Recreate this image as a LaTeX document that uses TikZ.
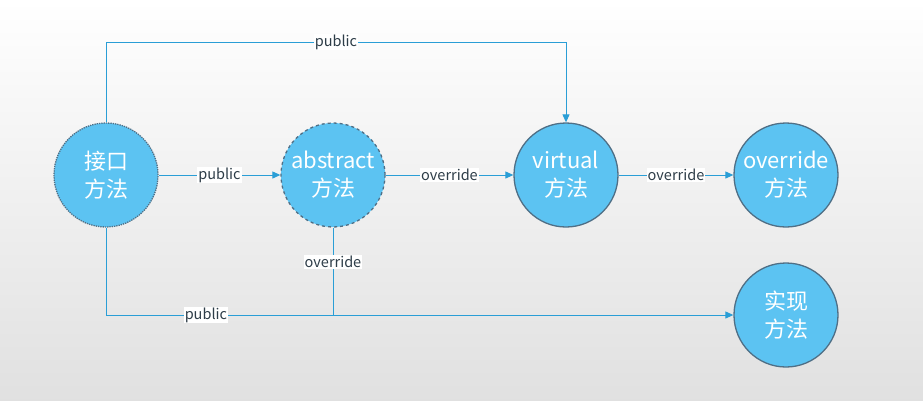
\documentclass[tikz,border=0pt]{standalone}
\usepackage{fontspec}
\setmainfont{Noto Sans CJK SC}
\usetikzlibrary{arrows.meta}
\definecolor{cfill}{HTML}{5CC3F2}
\definecolor{cline}{HTML}{2A9ED6}
\definecolor{cbord}{HTML}{4F6F86}
\definecolor{ctext}{HTML}{2E3D48}
\tikzset{
 meth/.style={circle,fill=cfill,draw=cbord,line width=1.3pt,minimum size=104pt,inner sep=0pt,text=white,font=\fontsize{22}{28}\selectfont,align=center},
 conn/.style={draw=cline,line width=1pt},
 arr/.style={conn,-{Triangle[length=8pt,width=7pt]}},
 lab/.style={fill=white,text=ctext,font=\fontsize{14.5}{16}\selectfont,inner sep=1pt}
}
\begin{document}
\begin{tikzpicture}[x=1pt,y=-1pt]
\shade[top color=white,bottom color=black!12] (0,0) rectangle (923,400);
\useasboundingbox (0,0) rectangle (923,400);
\node[meth,densely dotted] (a) at (106,175) {接口\\方法};
\node[meth,dashed] (b) at (333,175) {abstract\\方法};
\node[meth] (c) at (566,175) {virtual\\方法};
\node[meth] (d) at (786,175) {override\\方法};
\node[meth] (e) at (786,315) {实现\\方法};
\coordinate (t1) at (106,42); \coordinate (t2) at (566,42);
\coordinate (b1) at (106,315); \coordinate (b2) at (333,315);
\draw[arr] (a.north) -- (t1) -- node[lab]{public} (t2) -- (c.north);
\draw[arr] (a) -- node[lab]{public} (b);
\draw[arr] (b) -- node[lab]{override} (c);
\draw[arr] (c) -- node[lab]{override} (d);
\draw[conn] (a.south) -- (b1) -- node[lab,pos=0.44]{public} (b2);
\draw[arr] (b.south) -- node[lab,pos=0.39]{override} (b2) -- (e.west);
\end{tikzpicture}
\end{document}
